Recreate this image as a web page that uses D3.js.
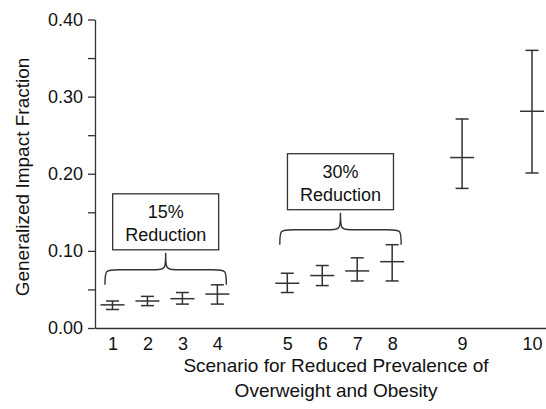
<!DOCTYPE html>
<html>
<head>
<meta charset="utf-8">
<script src="https://cdn.jsdelivr.net/npm/d3@7"></script>
<style>
  body { margin: 0; background: #fff; }
  svg { display: block; font-family: "Liberation Sans", Arial, sans-serif; }
</style>
</head>
<body>
<div id="chart"></div>
<script>
// scenarios and their slot on the x axis (gaps between groups)
const scenarios = ["1", "2", "3", "4", "5", "6", "7", "8", "9", "10"];
const slots = [0, 1, 2, 3, 5, 6, 7, 8, 10, 12];
const meanValues = [0.030, 0.035, 0.038, 0.044, 0.058, 0.068, 0.074, 0.086, 0.221, 0.281];
const lowerValues = [0.024, 0.029, 0.031, 0.031, 0.046, 0.055, 0.061, 0.061, 0.181, 0.201];
const upperValues = [0.035, 0.041, 0.046, 0.056, 0.071, 0.081, 0.091, 0.108, 0.271, 0.360];
const yTicks = [0, 0.05, 0.10, 0.15, 0.20, 0.25, 0.30, 0.35, 0.40];

// brace groups: first/last scenario index, label lines
const groupLabels = [["15%", "Reduction"], ["30%", "Reduction"]];
const groupRanges = [[0, 3], [4, 7]];

const width = 546, height = 409;
const ink = "#333";

const svg = d3.select("#chart").append("svg")
  .attr("width", width)
  .attr("height", height);

const x = d3.scaleLinear().domain([-0.5, 12.4]).range([95, 546]);
const y = d3.scaleLinear().domain([0, 0.4]).range([328, 19.5]);

// y axis
const yAxis = svg.append("g")
  .attr("transform", `translate(${x(-0.5)},0)`)
  .call(d3.axisLeft(y)
    .tickValues(yTicks)
    .tickSize(7)
    .tickSizeOuter(0)
    .tickPadding(5)
    .tickFormat(d => Math.round(d * 100) % 10 === 0 ? d3.format(".2f")(d) : ""));
yAxis.select(".domain").attr("stroke", ink).attr("stroke-width", 1.3);
yAxis.selectAll(".tick line").attr("stroke", ink).attr("stroke-width", 1.3);
yAxis.selectAll(".tick text").attr("fill", "#111").style("font-size", "18px");

// x axis, labels only
const xAxis = svg.append("g")
  .attr("transform", `translate(0,${y(0)})`)
  .call(d3.axisBottom(x)
    .tickValues(slots)
    .tickSize(0)
    .tickPadding(9)
    .tickFormat((d, i) => scenarios[i]));
xAxis.select(".domain").attr("stroke", ink).attr("stroke-width", 1.3);
xAxis.selectAll(".tick text").attr("fill", "#111").style("font-size", "18px");

// axis titles
svg.append("text")
  .attr("transform", `translate(29,177) rotate(-90)`)
  .attr("text-anchor", "middle")
  .attr("fill", "#111")
  .style("font-size", "19px")
  .text("Generalized Impact Fraction");

const xTitle = svg.append("text")
  .attr("text-anchor", "middle")
  .attr("fill", "#111")
  .style("font-size", "19px");
xTitle.append("tspan").attr("x", 336).attr("y", 372).text("Scenario for Reduced Prevalence of");
xTitle.append("tspan").attr("x", 336).attr("y", 397).text("Overweight and Obesity");

// error bars
const bars = svg.append("g")
  .attr("stroke", ink)
  .attr("stroke-width", 1.5);

scenarios.forEach((s, i) => {
  const cx = x(slots[i]);
  bars.append("line")
    .attr("x1", cx).attr("x2", cx)
    .attr("y1", y(lowerValues[i])).attr("y2", y(upperValues[i]));
  bars.append("line")
    .attr("x1", cx - 6.5).attr("x2", cx + 6.5)
    .attr("y1", y(lowerValues[i])).attr("y2", y(lowerValues[i]));
  bars.append("line")
    .attr("x1", cx - 6.5).attr("x2", cx + 6.5)
    .attr("y1", y(upperValues[i])).attr("y2", y(upperValues[i]));
  bars.append("line")
    .attr("x1", cx - 12).attr("x2", cx + 12)
    .attr("y1", y(meanValues[i])).attr("y2", y(meanValues[i]));
});

// braces with labelled boxes above each group
function bracePath(x0, x1, yEnd, yMid, yTip) {
  const xc = (x0 + x1) / 2;
  const r = 14, c = 10;
  return `M${x0},${yEnd}` +
    `C${x0},${yMid} ${x0},${yMid} ${x0 + r},${yMid}` +
    `L${xc - c},${yMid}` +
    `C${xc},${yMid} ${xc},${yMid - 2} ${xc},${yTip}` +
    `C${xc},${yMid - 2} ${xc},${yMid} ${xc + c},${yMid}` +
    `L${x1 - r},${yMid}` +
    `C${x1},${yMid} ${x1},${yMid} ${x1},${yEnd}`;
}

groupRanges.forEach(([a, b], g) => {
  const x0 = x(slots[a]) - 7.5;
  const x1 = x(slots[b]) + 9;
  const xc = (x0 + x1) / 2;
  const top = d3.max(upperValues.slice(a, b + 1));
  const yEnd = y(top);
  const yMid = yEnd - 15;
  const yTip = yMid - 17;

  svg.append("path")
    .attr("d", bracePath(x0, x1, yEnd, yMid, yTip))
    .attr("fill", "none")
    .attr("stroke", ink)
    .attr("stroke-width", 1.4);

  const boxW = 106, boxH = 56;
  const boxBottom = yTip - 3;
  const boxTop = boxBottom - boxH;
  svg.append("rect")
    .attr("x", xc - boxW / 2)
    .attr("y", boxTop)
    .attr("width", boxW)
    .attr("height", boxH)
    .attr("fill", "#fff")
    .attr("stroke", ink)
    .attr("stroke-width", 1.3);

  const label = svg.append("text")
    .attr("text-anchor", "middle")
    .attr("fill", "#111")
    .style("font-size", "18px");
  groupLabels[g].forEach((line, k) => {
    label.append("tspan")
      .attr("x", xc)
      .attr("y", boxTop + boxH / 2 - 4 + k * 23)
      .text(line);
  });
});
</script>
</body>
</html>
